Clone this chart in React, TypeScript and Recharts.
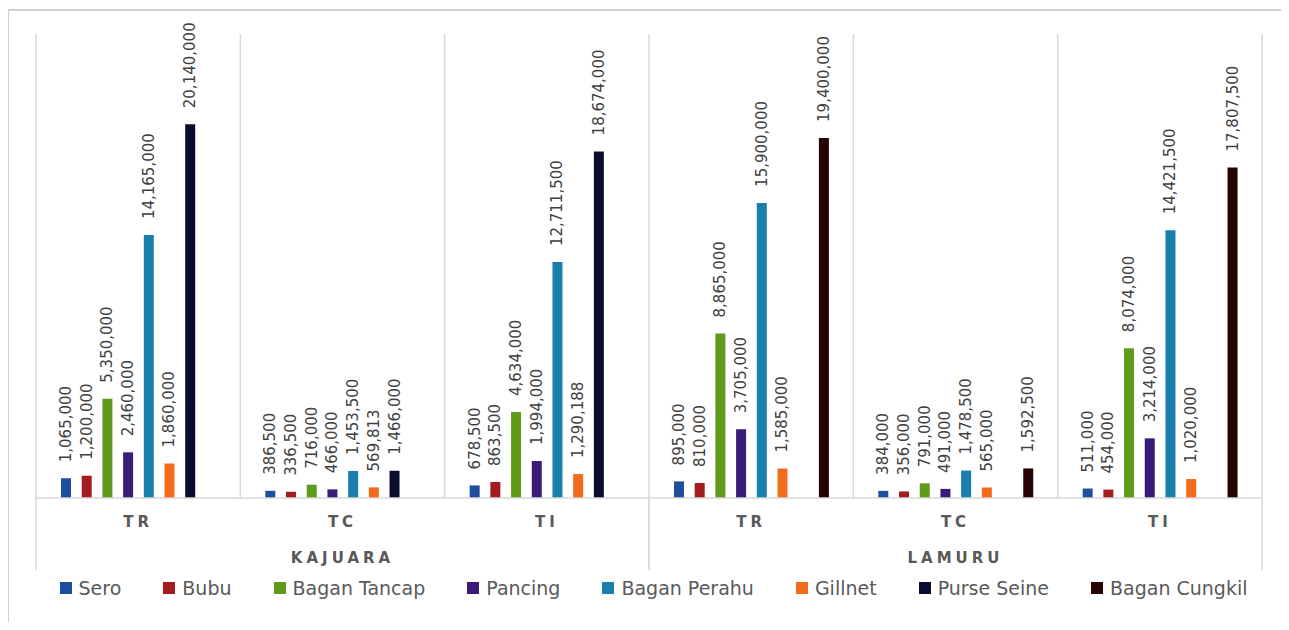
import { BarChart, Bar, XAxis, YAxis, CartesianGrid, Legend, LabelList } from "recharts";

// category rows: area type under each region
const categories = ["TR", "TC", "TI", "TR", "TC", "TI"];
const regions = ["KAJUARA", "KAJUARA", "KAJUARA", "LAMURU", "LAMURU", "LAMURU"];

const sero = [1065000, 386500, 678500, 895000, 384000, 511000];
const bubu = [1200000, 336500, 863500, 810000, 356000, 454000];
const baganTancap = [5350000, 716000, 4634000, 8865000, 791000, 8074000];
const pancing = [2460000, 466000, 1994000, 3705000, 491000, 3214000];
const baganPerahu = [14165000, 1453500, 12711500, 15900000, 1478500, 14421500];
const gillnet = [1860000, 569813, 1290188, 1585000, 565000, 1020000];
const purseSeine = [20140000, 1466000, 18674000, 0, 0, 0];
const baganCungkil = [0, 0, 0, 19400000, 1592500, 17807500];

const series = [
  { key: "sero", name: "Sero", values: sero, color: "#1f4e9e" },
  { key: "bubu", name: "Bubu", values: bubu, color: "#a31c1f" },
  { key: "baganTancap", name: "Bagan Tancap", values: baganTancap, color: "#5f9a1a" },
  { key: "pancing", name: "Pancing", values: pancing, color: "#3b1b78" },
  { key: "baganPerahu", name: "Bagan Perahu", values: baganPerahu, color: "#1b7fae" },
  { key: "gillnet", name: "Gillnet", values: gillnet, color: "#f26a1c" },
  { key: "purseSeine", name: "Purse Seine", values: purseSeine, color: "#0b0d2e" },
  { key: "baganCungkil", name: "Bagan Cungkil", values: baganCungkil, color: "#260404" },
];

const data = categories.map((cat, i) => {
  const row: Record<string, string | number> = { cat, region: regions[i] };
  series.forEach((s) => (row[s.key] = s.values[i]));
  return row;
});

const W = 1281;
const H = 614;
const MARGIN = { top: 26, right: 27, bottom: 44, left: 28 };
const PLOT_W = W - MARGIN.left - MARGIN.right;
const PLOT_BOTTOM = 490;
const SEP_BOTTOM = 562;
const GRID = "#d9d9d9";
const FONT = "DejaVu Sans, sans-serif";

function renderValueLabel(props: any) {
  const { x, y, width, value } = props;
  const cx = Number(x) + Number(width) / 2;
  if (!Number(value)) {
    // excel shows a zero as a small dash
    const ty = Number(y) - 21;
    return (
      <text x={cx} y={ty} transform={`rotate(-90 ${cx} ${ty})`} textAnchor="middle" dominantBaseline="central" fontSize={12} fill="#666666" fontFamily={FONT}>
        -
      </text>
    );
  }
  const ty = Number(y) - 16;
  return (
    <text x={cx} y={ty} transform={`rotate(-90 ${cx} ${ty})`} textAnchor="start" dominantBaseline="central" fontSize={15} fill="#404040" fontFamily={FONT}>
      {Number(value).toLocaleString("en-US")}
    </text>
  );
}

function RegionTick(props: any) {
  const { x, y, payload } = props;
  const half = PLOT_W / 4;
  return (
    <g>
      <line x1={x - half} x2={x - half} y1={PLOT_BOTTOM} y2={SEP_BOTTOM} stroke={GRID} strokeWidth={1.5} />
      <line x1={x + half} x2={x + half} y1={PLOT_BOTTOM} y2={SEP_BOTTOM} stroke={GRID} strokeWidth={1.5} />
      <text x={x} y={y} textAnchor="middle" dominantBaseline="central" fontSize={15} fontWeight={600} letterSpacing={4} fill="#595959" fontFamily={FONT}>
        {payload.value}
      </text>
    </g>
  );
}

// legend in series order (recharts sorts payload by name otherwise)
function renderLegend() {
  return (
    <div style={{ display: "flex", justifyContent: "center", gap: 42, fontFamily: FONT, fontSize: 19, color: "#595959" }}>
      {series.map((s) => (
        <span key={s.key} style={{ display: "flex", alignItems: "center" }}>
          <span style={{ width: 12, height: 12, background: s.color, marginRight: 7, display: "inline-block" }} />
          {s.name}
        </span>
      ))}
    </div>
  );
}

export default function App() {
  return (
    <div style={{ position: "relative", width: W, height: H }}>
      <div
        style={{
          position: "absolute",
          left: -1,
          top: 1,
          width: 1281,
          height: 621,
          border: "2px solid #d0d0d0",
          boxSizing: "border-box",
        }}
      />
      <BarChart width={W} height={H} data={data} margin={MARGIN} barSize={10} barGap={10.7}>
        <CartesianGrid
          horizontal={false}
          stroke={GRID}
          strokeWidth={1.5}
          verticalCoordinatesGenerator={({ offset }: any) =>
            [0, 1, 2, 3, 4, 5, 6].map((k) => offset.left + (k * offset.width) / 6)
          }
        />
        <XAxis
          dataKey="cat"
          height={40}
          axisLine={{ stroke: GRID, strokeWidth: 1.5 }}
          tickLine={false}
          tickSize={0}
          tickMargin={18}
          tick={{ fill: "#595959", fontSize: 15, fontWeight: 600, letterSpacing: 4, fontFamily: FONT }}
        />
        <XAxis
          xAxisId="region"
          dataKey="region"
          allowDuplicatedCategory={false}
          height={40}
          axisLine={false}
          tickLine={false}
          tickSize={0}
          tickMargin={20}
          tick={<RegionTick />}
        />
        <YAxis hide domain={[0, 25000000]} />
        <Legend verticalAlign="middle" align="center" content={renderLegend} wrapperStyle={{ top: 569, left: 5, width: W }} />
        {series.map((s) => (
          <Bar key={s.key} dataKey={s.key} name={s.name} fill={s.color} isAnimationActive={false}>
            <LabelList dataKey={s.key} content={renderValueLabel} />
          </Bar>
        ))}
      </BarChart>
    </div>
  );
}
